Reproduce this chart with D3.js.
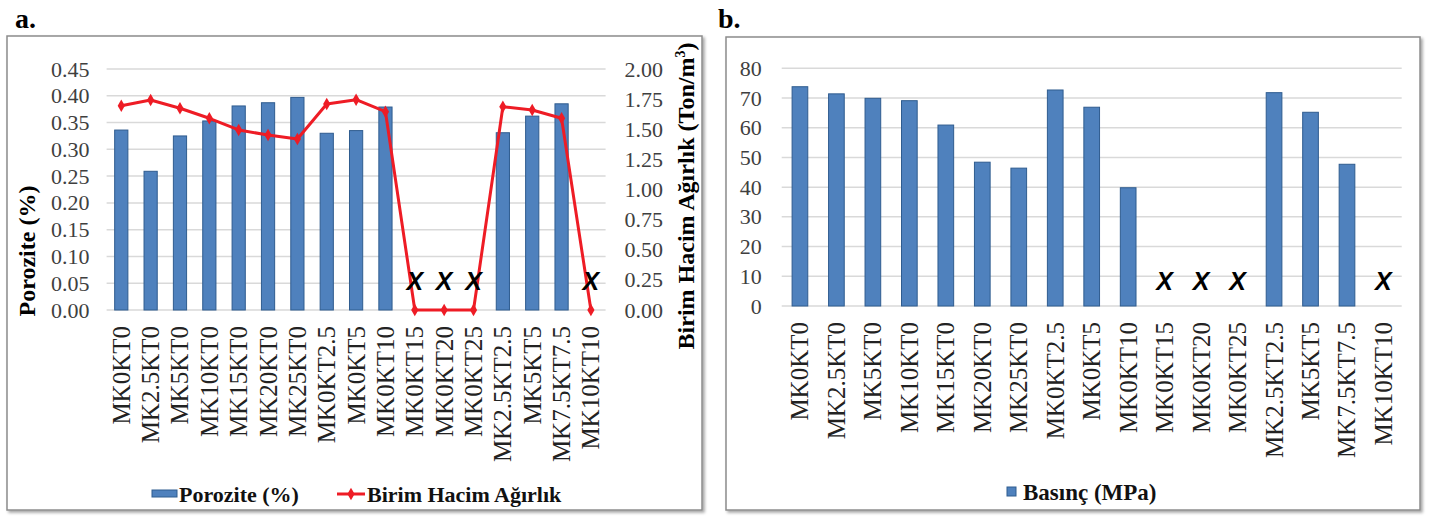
<!DOCTYPE html>
<html><head><meta charset="utf-8">
<script src="https://cdn.jsdelivr.net/npm/d3@7"></script>
<style>body{margin:0;background:#fff} svg{display:block}</style>
</head><body>
<svg id="chart" width="1429" height="516"></svg>
<script>
// ---------- data ----------
const categories = ["MK0KT0","MK2.5KT0","MK5KT0","MK10KT0","MK15KT0","MK20KT0","MK25KT0",
  "MK0KT2.5","MK0KT5","MK0KT10","MK0KT15","MK0KT20","MK0KT25",
  "MK2.5KT2.5","MK5KT5","MK7.5KT7.5","MK10KT10"];
const porosity   = [0.336,0.259,0.325,0.353,0.381,0.387,0.397,0.330,0.335,0.379,0,0,0,0.331,0.362,0.385,0];
const unitWeight = [1.695,1.743,1.674,1.591,1.494,1.452,1.419,1.710,1.745,1.646,0,0,0,1.687,1.660,1.591,0];
const pressure   = [73.8,71.4,69.9,69.1,60.9,48.4,46.4,72.7,66.9,39.8,0,0,0,71.8,65.2,47.7,0];
const failed     = ["MK0KT15","MK0KT20","MK0KT25","MK10KT10"];
const porosityTicks = [0,0.05,0.10,0.15,0.20,0.25,0.30,0.35,0.40,0.45];
const weightTicks   = [0,0.25,0.5,0.75,1.0,1.25,1.5,1.75,2.0];
const pressureTicks = [0,10,20,30,40,50,60,70,80];

// ---------- style ----------
const SERIF = "'Liberation Serif','Times New Roman',serif";
const SANS = "'Liberation Sans',Arial,sans-serif";
const BAR = "#4f81bd", BAR_EDGE = "#2f5c8f", LINE = "#ee1c25", GRID = "#d9d9d9", TICK = "#3f3f3f";

const svg = d3.select("#chart");
const defs = svg.append("defs");
const f = defs.append("filter").attr("id","sh").attr("x","-5%").attr("y","-5%").attr("width","110%").attr("height","110%");
f.append("feDropShadow").attr("dx",2).attr("dy",2).attr("stdDeviation",1.5).attr("flood-color","#000").attr("flood-opacity",0.35);

function frame(x,y,w,h){
  svg.append("rect").attr("x",x).attr("y",y).attr("width",w).attr("height",h)
    .attr("fill","#fff").attr("stroke","#8c8c8c").attr("stroke-width",1.5).attr("filter","url(#sh)");
}
function panelLabel(txt,x,y){
  svg.append("text").attr("x",x).attr("y",y).text(txt)
    .attr("font-family",SERIF).attr("font-weight","bold").attr("font-size",28).attr("fill","#000");
}
function grid(g,y,ticks,x0,x1){
  g.selectAll("line.grid").data(ticks).join("line").attr("class","grid")
    .attr("x1",x0).attr("x2",x1).attr("y1",d=>y(d)).attr("y2",d=>y(d))
    .attr("stroke",GRID).attr("stroke-width",1.5);
}
function styleAxis(g,size){
  g.select(".domain").remove();
  g.selectAll("text").attr("font-family",SERIF).attr("font-size",size).attr("fill",TICK);
}
function xLabels(g,x,yBase){
  const ax = g.append("g").attr("transform",`translate(0,${yBase})`)
    .call(d3.axisBottom(x).tickSize(0));
  ax.select(".domain").remove();
  ax.selectAll("text").attr("x",0).attr("y",0).attr("dy","0.34em")
    .attr("transform","translate(0,16) rotate(-90)").attr("text-anchor","end")
    .attr("font-family",SERIF).attr("font-size",25).attr("fill","#222");
}
function xMarks(g,x,y){
  g.selectAll("text.xm").data(failed).join("text").attr("class","xm")
    .attr("x",d=>x(d)+x.bandwidth()/2).attr("y",y).attr("text-anchor","middle")
    .attr("dominant-baseline","central")
    .attr("font-family",SANS).attr("font-style","italic").attr("font-weight","bold")
    .attr("font-size",25).attr("fill","#000").text("X");
}

// ================= Panel a =================
panelLabel("a.",15,28);
frame(7,36,695,474);
{
  const g = svg.append("g");
  const x = d3.scaleBand().domain(categories).range([106.6,605.6]).paddingInner(0.55).paddingOuter(0.275);
  const yL = d3.scaleLinear().domain([0,0.45]).range([310,69]);
  const yR = d3.scaleLinear().domain([0,2]).range([310,69]);
  grid(g,yL,porosityTicks,106.6,605.6);

  g.selectAll("rect.bar").data(categories.map((c,i)=>({c,v:porosity[i]})).filter(d=>d.v>0))
    .join("rect").attr("class","bar")
    .attr("x",d=>x(d.c)).attr("width",x.bandwidth())
    .attr("y",d=>yL(d.v)).attr("height",d=>yL(0)-yL(d.v))
    .attr("fill",BAR).attr("stroke",BAR_EDGE).attr("stroke-width",1);

  const pts = categories.map((c,i)=>({c,v:unitWeight[i]}));
  const line = d3.line().x(d=>x(d.c)+x.bandwidth()/2).y(d=>yR(d.v));
  g.append("path").datum(pts).attr("d",line).attr("fill","none")
    .attr("stroke",LINE).attr("stroke-width",3).attr("stroke-linejoin","round");
  g.selectAll("path.mk").data(pts).join("path").attr("class","mk")
    .attr("transform",d=>`translate(${x(d.c)+x.bandwidth()/2},${yR(d.v)})`)
    .attr("d",d3.symbol(d3.symbolDiamond).size(45)).attr("fill",LINE);

  const axL = g.append("g").attr("transform","translate(106.6,0)")
    .call(d3.axisLeft(yL).tickValues(porosityTicks).tickFormat(d3.format(".2f")).tickSize(0).tickPadding(17));
  styleAxis(axL,22);
  const axR = g.append("g").attr("transform","translate(605.6,0)")
    .call(d3.axisRight(yR).tickValues(weightTicks).tickFormat(d3.format(".2f")).tickSize(0).tickPadding(19));
  styleAxis(axR,22);

  xLabels(g,x,310);
  xMarks(g,x,281);

  // axis titles
  g.append("text").attr("transform","translate(27,251) rotate(-90)").attr("text-anchor","middle")
    .attr("dominant-baseline","central").attr("font-family",SERIF).attr("font-weight","bold")
    .attr("font-size",24).attr("fill","#000").text("Porozite (%)");
  const rt = g.append("text").attr("transform","translate(694,196) rotate(-90)").attr("text-anchor","middle")
    .attr("font-family",SERIF).attr("font-weight","bold")
    .attr("font-size",24).attr("fill","#000");
  rt.append("tspan").text("Birim Hacim Ağırlık (Ton/m");
  rt.append("tspan").text("3").attr("font-size",14).attr("dy",-9);
  rt.append("tspan").text(")").attr("dy",9);

  // legend
  const lg = g.append("g");
  lg.append("rect").attr("x",152).attr("y",490).attr("width",25).attr("height",7)
    .attr("fill",BAR).attr("stroke",BAR_EDGE);
  lg.append("text").attr("x",179).attr("y",494).attr("dominant-baseline","central")
    .attr("font-family",SERIF).attr("font-weight","bold").attr("font-size",22).attr("fill","#111").text("Porozite (%)");
  lg.append("line").attr("x1",337).attr("x2",365).attr("y1",494).attr("y2",494).attr("stroke",LINE).attr("stroke-width",3);
  lg.append("path").attr("transform","translate(351,494)").attr("d",d3.symbol(d3.symbolDiamond).size(45)).attr("fill",LINE);
  lg.append("text").attr("x",367).attr("y",494).attr("dominant-baseline","central")
    .attr("font-family",SERIF).attr("font-weight","bold").attr("font-size",22).attr("fill","#111").text("Birim Hacim Ağırlık");
}

// ================= Panel b =================
panelLabel("b.",718,28);
frame(726,37,694,473);
{
  const g = svg.append("g");
  const x = d3.scaleBand().domain(categories).range([781.7,1401.7]).paddingInner(0.57).paddingOuter(0.285);
  const y = d3.scaleLinear().domain([0,80]).range([306,68.3]);
  grid(g,y,pressureTicks,781.7,1401.7);

  g.selectAll("rect.bar").data(categories.map((c,i)=>({c,v:pressure[i]})).filter(d=>d.v>0))
    .join("rect").attr("class","bar")
    .attr("x",d=>x(d.c)).attr("width",x.bandwidth())
    .attr("y",d=>y(d.v)).attr("height",d=>y(0)-y(d.v))
    .attr("fill",BAR).attr("stroke",BAR_EDGE).attr("stroke-width",1);

  const ax = g.append("g").attr("transform","translate(781.7,0)")
    .call(d3.axisLeft(y).tickValues(pressureTicks).tickFormat(d3.format("d")).tickSize(0).tickPadding(20));
  styleAxis(ax,22);

  xLabels(g,x,306);
  xMarks(g,x,281);

  const lg = g.append("g");
  lg.append("rect").attr("x",1007).attr("y",487).attr("width",9).attr("height",9)
    .attr("fill",BAR).attr("stroke",BAR_EDGE);
  lg.append("text").attr("x",1023).attr("y",492).attr("dominant-baseline","central")
    .attr("font-family",SERIF).attr("font-weight","bold").attr("font-size",23).attr("fill","#111").text("Basınç (MPa)");
}
</script>
</body></html>
